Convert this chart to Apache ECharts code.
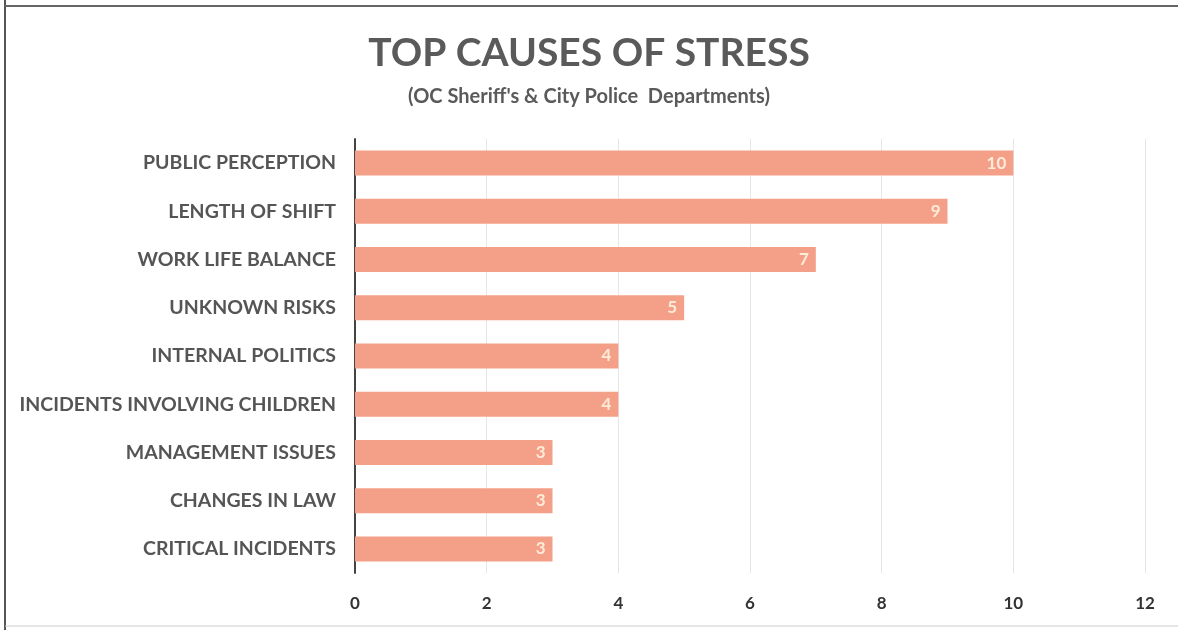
<!DOCTYPE html>
<html><head><meta charset="utf-8">
<script src="https://cdn.jsdelivr.net/npm/echarts@6/dist/echarts.min.js"></script>
<style>html,body{margin:0;padding:0;background:#fff}#c{width:1178px;height:630px}</style>
</head><body><div id="c"></div>
<script>
const categories = ["PUBLIC PERCEPTION","LENGTH OF SHIFT","WORK LIFE BALANCE","UNKNOWN RISKS","INTERNAL POLITICS","INCIDENTS INVOLVING CHILDREN","MANAGEMENT ISSUES","CHANGES IN LAW","CRITICAL INCIDENTS"];
const values = [10,9,7,5,4,4,3,3,3];
const titleText = "TOP CAUSES OF STRESS";
const subtitleText = "(OC Sheriff's & City Police  Departments)";

const chart = echarts.init(document.getElementById('c'));
chart.setOption({
  backgroundColor:'#fff',
  animation:false,
  title:{
    text:titleText, subtext:subtitleText, left:'center', top:29, itemGap:14,
    textStyle:{fontFamily:'Lato',fontWeight:'bold',fontSize:39,color:'#5a5a5a'},
    subtextStyle:{fontFamily:'Lato',fontWeight:'bold',fontSize:20,color:'#5a5a5a'}
  },
  graphic:[
    {type:'line',shape:{x1:5,y1:0,x2:5,y2:630},style:{stroke:'#555',lineWidth:2}},
    {type:'line',shape:{x1:5,y1:6,x2:1178,y2:6},style:{stroke:'#666',lineWidth:2}},
    {type:'line',shape:{x1:5,y1:626,x2:1178,y2:626},style:{stroke:'#ccc',lineWidth:1}}
  ],
  grid:{left:355,right:33,top:139,bottom:57,containLabel:false},
  xAxis:{type:'value',min:0,max:12,interval:2,
    axisLine:{show:false},axisTick:{show:false},
    splitLine:{show:true,lineStyle:{color:'#e6e6e6',width:1}},
    axisLabel:{margin:22,fontFamily:'Lato',fontWeight:'bold',fontSize:17,color:'#333'}},
  yAxis:{type:'category',data:categories,inverse:true,
    axisLine:{show:true,lineStyle:{color:'#444',width:2}},axisTick:{show:false},
    axisLabel:{margin:19,fontFamily:'Lato',fontWeight:'bold',fontSize:19.5,color:'#555'}},
  series:[{type:'bar',data:values,barWidth:25,
    itemStyle:{color:'#F4A089'},
    label:{show:true,position:'insideRight',offset:[-2,0],color:'#FDEBD8',fontFamily:'Lato',fontWeight:'bold',fontSize:17}}]
});
</script></body></html>
